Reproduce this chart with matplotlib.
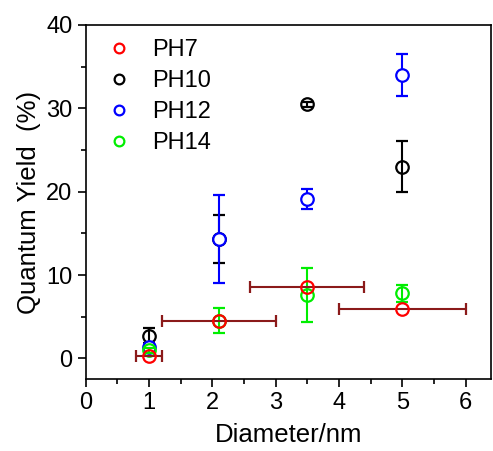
import matplotlib
matplotlib.use("Agg")
import matplotlib.pyplot as plt
from matplotlib.lines import Line2D
from matplotlib.ticker import MultipleLocator

plt.rcParams['font.family'] = ['Liberation Sans', 'DejaVu Sans']

# Data
ph7_x = [1.0, 2.1, 3.5, 5.0]
ph7_y = [0.3, 4.5, 8.6, 5.9]
ph7_xerr = [0.2, 0.9, 0.9, 1.0]

ph10_x = [1.0, 2.1, 3.5, 5.0]
ph10_y = [2.7, 14.3, 30.5, 23.0]
ph10_yerr = [0.9, 2.85, 0.3, 3.1]

ph12_x = [1.0, 2.1, 3.5, 5.0]
ph12_y = [1.4, 14.3, 19.1, 34.0]
ph12_yerr = [0.3, 5.3, 1.2, 2.55]

ph14_x = [1.0, 2.1, 3.5, 5.0]
ph14_y = [1.0, 4.5, 7.6, 7.8]
ph14_yerr = [0.3, 1.5, 3.25, 1.05]

labels = ['PH7', 'PH10', 'PH12', 'PH14']
colors = ['#ff0000', '#000000', '#0000ff', '#00ee00']
xerr_color = '#8b1a1a'

fig = plt.figure(figsize=(4.93, 4.51), dpi=100)
ax = fig.add_axes([0.174, 0.159, 0.822, 0.786])

ms = 9
mew = 1.6
ax.errorbar(ph10_x, ph10_y, yerr=ph10_yerr, fmt='o', mfc='none', mec=colors[1],
            ecolor=colors[1], ms=ms, mew=mew, elinewidth=1.5, capsize=4, capthick=1.5, zorder=2)
ax.errorbar(ph12_x, ph12_y, yerr=ph12_yerr, fmt='o', mfc='white', mec=colors[2],
            ecolor=colors[2], ms=ms, mew=mew, elinewidth=1.5, capsize=4, capthick=1.5, zorder=3)
ax.errorbar(ph14_x, ph14_y, yerr=ph14_yerr, fmt='o', mfc='none', mec=colors[3],
            ecolor=colors[3], ms=ms, mew=mew, elinewidth=1.5, capsize=4, capthick=1.5, zorder=4)
ax.errorbar(ph7_x, ph7_y, xerr=ph7_xerr, fmt='o', mfc='none', mec=colors[0],
            ecolor=xerr_color, ms=ms, mew=mew, elinewidth=1.5, capsize=4, capthick=1.5, zorder=5)

ax.set_xlim(0, 6.4)
ax.set_ylim(-2.5, 40)
ax.xaxis.set_major_locator(MultipleLocator(1))
ax.xaxis.set_minor_locator(MultipleLocator(0.5))
ax.yaxis.set_major_locator(MultipleLocator(10))
ax.yaxis.set_minor_locator(MultipleLocator(5))
ax.tick_params(which='major', direction='out', length=6, width=1.2, labelsize=17)
ax.tick_params(which='minor', direction='out', length=3.5, width=1.2)
for s in ax.spines.values():
    s.set_linewidth(1.2)

ax.set_xlabel('Diameter/nm', fontsize=18.5, labelpad=6)
ax.set_ylabel('Quantum Yield  (%)', fontsize=18.5, labelpad=4)

handles = [Line2D([], [], ls='none', marker='o', mfc='none', mec=c, ms=7, mew=1.6) for c in colors]
ax.legend(handles, labels, loc='upper left', frameon=False, fontsize=17,
          handletextpad=0.6, labelspacing=0.38, borderaxespad=0.2, handlelength=1.6,
          bbox_to_anchor=(0.0, 1.0))

fig.savefig('out.png', dpi=100)
